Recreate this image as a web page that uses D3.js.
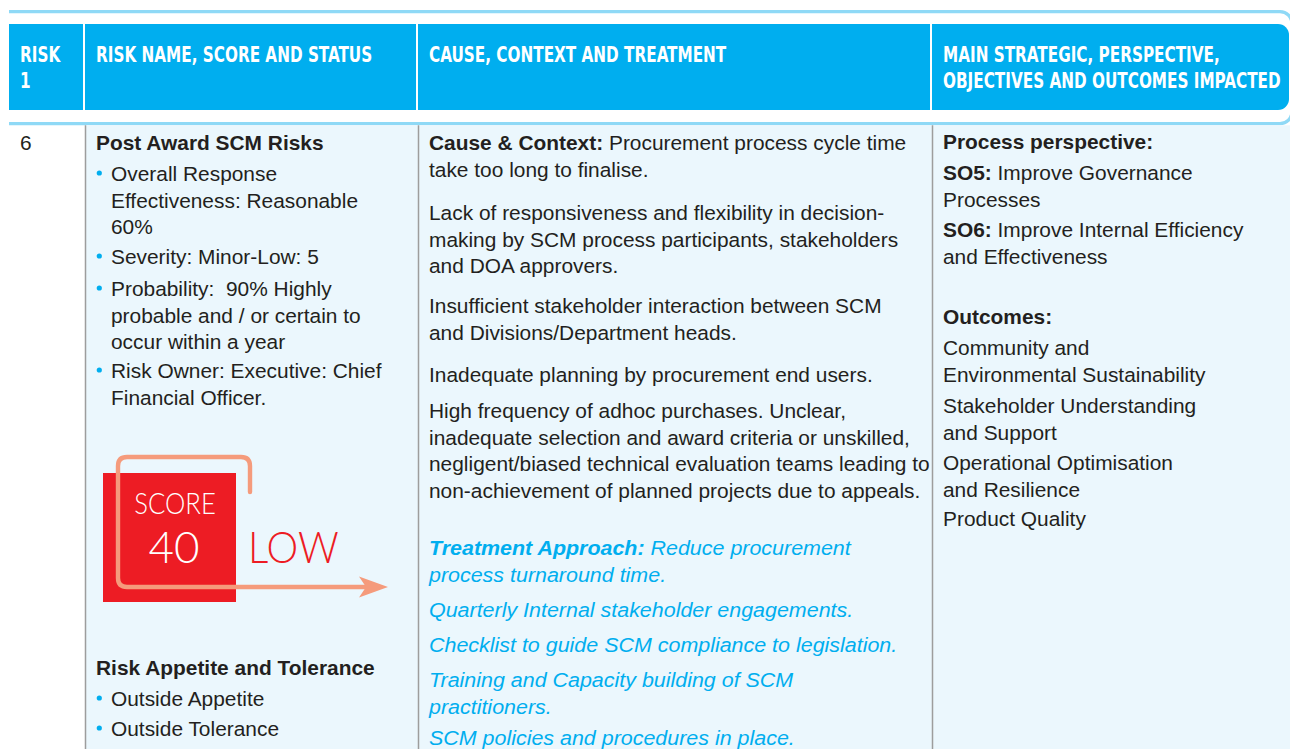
<!DOCTYPE html>
<html><head><meta charset="utf-8">
<script src="https://cdn.jsdelivr.net/npm/d3@7/dist/d3.min.js"></script>
<style>html,body{margin:0;padding:0;background:#fff;} svg{display:block}</style>
</head><body>
<svg id="c" width="1290" height="749"></svg>
<script>
// ---------- content ----------
const columns = ["risk", "name", "cause", "impact"];
const headerLabels = [
  ["RISK", "1"],
  ["RISK NAME, SCORE AND STATUS"],
  ["CAUSE, CONTEXT AND TREATMENT"],
  ["MAIN STRATEGIC, PERSPECTIVE,", "OBJECTIVES AND OUTCOMES IMPACTED"]
];
const riskNumber = "6";
const riskName = "Post Award SCM Risks";
const riskBullets = [
  ["Overall Response", "Effectiveness: Reasonable", "60%"],
  ["Severity: Minor-Low: 5"],
  ["Probability:  90% Highly", "probable and / or certain to", "occur within a year"],
  ["Risk Owner: Executive: Chief", "Financial Officer."]
];
const scoreLabel = "SCORE";
const scoreValue = 40;
const ratingLabel = "LOW";
const appetiteTitle = "Risk Appetite and Tolerance";
const appetiteBullets = ["Outside Appetite", "Outside Tolerance"];
const causeParagraphs = [
  ["**Cause & Context:** Procurement process cycle time", "take too long to finalise."],
  ["Lack of responsiveness and flexibility in decision-", "making by SCM process participants, stakeholders", "and DOA approvers."],
  ["Insufficient stakeholder interaction between SCM", "and Divisions/Department heads."],
  ["Inadequate planning by procurement end users."],
  ["High frequency of adhoc purchases. Unclear,", "inadequate selection and award criteria or unskilled,", "negligent/biased technical evaluation teams leading to", "non-achievement of planned projects due to appeals."]
];
const treatmentParagraphs = [
  ["**Treatment Approach:** Reduce procurement", "process turnaround time."],
  ["Quarterly Internal stakeholder engagements."],
  ["Checklist to guide SCM compliance to legislation."],
  ["Training and Capacity building of SCM", "practitioners."],
  ["SCM policies and procedures in place."]
];
const impactParagraphs = [
  ["**Process perspective:**"],
  ["**SO5:** Improve Governance", "Processes"],
  ["**SO6:** Improve Internal Efficiency", "and Effectiveness"],
  ["**Outcomes:**"],
  ["Community and", "Environmental Sustainability"],
  ["Stakeholder Understanding", "and Support"],
  ["Operational Optimisation", "and Resilience"],
  ["Product Quality"]
];

// ---------- layout ----------
const W = 1290, H = 749;
const BLUE = "#00aeef", LIGHT = "#8fd9f6", BG = "#ebf7fd", INK = "#231f20", GRID = "#9d9d9d";
const RED = "#ed1c24", SALMON = "#f59b7c";
const colX = d3.scaleOrdinal().domain(columns).range([9, 85, 418, 932]);
const rightEdge = 1289;
const colEnd = c => { const i = columns.indexOf(c); return i < columns.length - 1 ? colX(columns[i + 1]) : rightEdge; };
const pad = 11;
const LH = 26.6;
const bodyFont = "'Liberation Sans', Arial, Helvetica, sans-serif";
const bodySize = 19.5;
const bodySX = 1.072;
const italicSX = 1.1;
const headFont = "'Liberation Sans Narrow', 'DejaVu Sans Condensed', 'Arial Narrow', sans-serif";
const headRefWidth = 338; // width of the longest header line

const svg = d3.select("#c");

// frame lines
svg.append("path").attr("d", `M9,11.6 H1280 A12,12 0 0 1 1292,23.6`).attr("fill", "none").attr("stroke", LIGHT).attr("stroke-width", 3.4);
svg.append("path").attr("d", `M9,123.6 H1280 A12,12 0 0 0 1292,111.6`).attr("fill", "none").attr("stroke", LIGHT).attr("stroke-width", 3.4);

// header cells
const headTop = 24, headBot = 110;
columns.forEach((c, i) => {
  const x0 = colX(c), x1 = colEnd(c) - (i < columns.length - 1 ? 2 : 0);
  if (i < columns.length - 1) {
    svg.append("rect").attr("x", x0).attr("y", headTop).attr("width", x1 - x0).attr("height", headBot - headTop).attr("fill", BLUE);
  } else {
    const r = 11;
    svg.append("path").attr("d",
      `M${x0},${headTop} H${x1 - r} A${r},${r} 0 0 1 ${x1},${headTop + r} V${headBot - r} A${r},${r} 0 0 1 ${x1 - r},${headBot} H${x0} Z`)
      .attr("fill", BLUE);
  }
});
// measure to get a condensed look
const probe = svg.append("text").attr("font-family", headFont).attr("font-weight", "bold").attr("font-size", 22)
  .text(headerLabels[3][1]);
const headSX = headRefWidth / probe.node().getComputedTextLength();
probe.remove();
columns.forEach((c, i) => {
  headerLabels[i].forEach((line, j) => {
    const x = colX(c) + pad, y = 62 + j * 26;
    svg.append("text").attr("transform", `translate(${x},${y}) scale(${headSX},1)`)
      .attr("font-family", headFont).attr("font-weight", "bold").attr("font-size", 22)
      .attr("fill", "#fff").text(line);
  });
});

// body background
const bodyTop = 125.3;
svg.append("rect").attr("x", colX("name")).attr("y", bodyTop).attr("width", W - colX("name")).attr("height", H - bodyTop).attr("fill", BG);
["name", "cause", "impact"].forEach(c => {
  svg.append("line").attr("x1", colX(c) + 0.5).attr("x2", colX(c) + 0.5).attr("y1", bodyTop).attr("y2", H)
    .attr("stroke", GRID).attr("stroke-width", 1.5);
});

// text helper: "**bold** rest"
function addLine(g, x, y, str, opts = {}) {
  const sx = opts.italic ? italicSX : bodySX;
  const t = g.append("text").attr("transform", `translate(${x},${y}) scale(${sx},1)`)
    .attr("font-family", bodyFont).attr("font-size", opts.size || bodySize)
    .attr("fill", opts.color || INK)
    .attr("font-style", opts.italic ? "italic" : "normal")
    .attr("font-weight", opts.bold ? "bold" : "normal")
    .style("white-space", "pre");
  const m = str.match(/^\*\*(.*?)\*\*(.*)$/);
  if (m) {
    t.append("tspan").attr("font-weight", "bold").text(m[1]);
    if (m[2]) t.append("tspan").attr("font-weight", "normal").text(m[2]);
  } else t.text(str);
  return t;
}
const g = svg.append("g");

// column 1
addLine(g, colX("risk") + pad, 150, riskNumber);

// column 2
const nx = colX("name") + pad;
addLine(g, nx, 150, riskName, { bold: true });
const bulletY = [181, 264, 296, 378];
riskBullets.forEach((lines, i) => {
  g.append("circle").attr("cx", nx + 3.3).attr("cy", bulletY[i] - 8).attr("r", 2.6).attr("fill", BLUE);
  lines.forEach((l, j) => addLine(g, nx + 15, bulletY[i] + j * LH, l));
});
addLine(g, nx, 675, appetiteTitle, { bold: true });
appetiteBullets.forEach((l, i) => {
  const y = 706 + i * 30;
  g.append("circle").attr("cx", nx + 3.3).attr("cy", y - 8).attr("r", 2.6).attr("fill", BLUE);
  addLine(g, nx + 15, y, l);
});

// score graphic
const sg = svg.append("g");
const box = { x: 103, y: 473, w: 133, h: 129 };
sg.append("rect").attr("x", box.x).attr("y", box.y).attr("width", box.w).attr("height", box.h).attr("fill", RED);
const r = 9;
sg.append("path").attr("d",
  `M250,492 V${457 + r} Q250,457 ${250 - r},457 H${118 + r} Q118,457 118,${457 + r} V${587 - r} Q118,587 ${118 + r},587 H372`)
  .attr("fill", "none").attr("stroke", SALMON).attr("stroke-width", 4.4).attr("stroke-linecap", "round").attr("stroke-linejoin", "round");
sg.append("path").attr("d", "M388,587 L359,576.5 L366,587 L359,597.5 Z").attr("fill", SALMON);
const scoreFont = "Lato, 'Open Sans', sans-serif";
sg.append("text").attr("transform", "translate(175,514) scale(0.9,1)").attr("text-anchor", "middle").attr("font-family", scoreFont).attr("font-weight", 300)
  .attr("font-size", 28.5).attr("fill", "#fff").text(scoreLabel);
sg.append("text").attr("transform", "translate(174,563)").attr("text-anchor", "middle").attr("font-family", scoreFont).attr("font-weight", 300)
  .attr("font-size", 44).attr("fill", "#fff").text(scoreValue);
sg.append("text").attr("transform", "translate(248,563) scale(0.91,1)").attr("font-family", scoreFont).attr("font-weight", 300)
  .attr("font-size", 44).attr("fill", RED).text(ratingLabel);

// column 3
const cx = colX("cause") + pad;
const causeY = [150, 220, 313, 382, 418];
causeParagraphs.forEach((lines, i) => lines.forEach((l, j) => addLine(g, cx, causeY[i] + j * LH, l)));
const treatY = [555, 617, 652, 687, 745];
treatmentParagraphs.forEach((lines, i) => lines.forEach((l, j) =>
  addLine(g, cx, treatY[i] + j * 27, l, { italic: true, color: BLUE })));

// column 4
const ix = colX("impact") + pad;
const impactY = [149, 180, 237, 324, 355, 413, 470, 526];
impactParagraphs.forEach((lines, i) => lines.forEach((l, j) => addLine(g, ix, impactY[i] + j * LH, l)));
</script>
</body></html>
